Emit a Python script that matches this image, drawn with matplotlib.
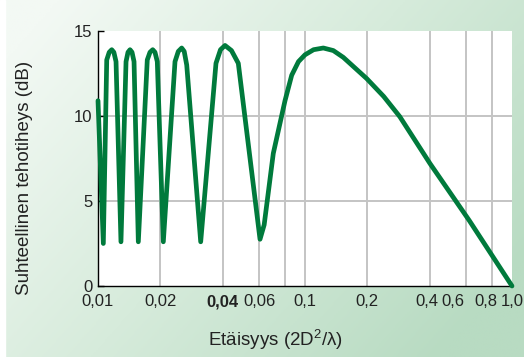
import numpy as np
import matplotlib.pyplot as plt
from matplotlib.colors import LinearSegmentedColormap
from matplotlib.transforms import ScaledTranslation

# Curve (distance in 2D^2/lambda, relative gain in dB)
distance = [0.0100, 0.01061,
            0.01102, 0.01133, 0.01165, 0.01193, 0.01222, 0.01291,
            0.01366, 0.01396, 0.01428, 0.01460, 0.01493, 0.01566,
            0.01730, 0.01783, 0.01838, 0.01885, 0.01934, 0.02068,
            0.02355, 0.02443, 0.02537, 0.02609, 0.02683, 0.03134,
            0.03715, 0.03906, 0.04108, 0.04414, 0.04762, 0.06063,
            0.0635, 0.07028, 0.08006, 0.08625, 0.0930, 0.1000, 0.1100,
            0.1226, 0.1370, 0.1531, 0.1987, 0.2400, 0.2871, 0.4018,
            0.6218, 1.0]
gain_db = [10.9, 2.5,
           13.3, 13.75, 13.9, 13.75, 13.2, 2.6,
           13.2, 13.75, 13.9, 13.75, 13.2, 2.6,
           13.3, 13.75, 13.9, 13.75, 13.2, 2.6,
           13.2, 13.8, 14.0, 13.8, 13.0, 2.6,
           13.1, 13.9, 14.15, 13.85, 13.1, 2.75,
           3.6, 7.8, 10.9, 12.4, 13.2, 13.6, 13.9,
           14.0, 13.85, 13.45, 12.2, 11.15, 9.96, 7.2,
           3.85, 0.0]

x_ticks = [0.01, 0.02, 0.04, 0.06, 0.08, 0.1, 0.2, 0.4, 0.6, 0.8, 1.0]
x_labels = ['0,01', '0,02', '0,04', '0,06', '', '0,1', '0,2', '0,4', '0,6', '0,8', '1,0']
y_ticks = [0, 5, 10, 15]

plt.rcParams['font.family'] = ['Liberation Sans', 'DejaVu Sans']
plt.rcParams['mathtext.fontset'] = 'custom'
plt.rcParams['mathtext.rm'] = 'Liberation Sans'
plt.rcParams['mathtext.it'] = 'Liberation Sans'
text_color = '#222222'
line_color = '#007a3c'
grid_color = '#c4c4c4'

fig = plt.figure(figsize=(5.24, 3.57), dpi=100)

# Background gradient: pale top-left to green bottom-right
bg = fig.add_axes([0, 0, 1, 1], zorder=-10)
yy, xx = np.mgrid[0:1:200j, 0:1:300j]
t = np.clip(0.75 * xx + 0.45 * yy - 0.08, 0, 1)
cmap = LinearSegmentedColormap.from_list('bg', ['#f3f9f4', '#d6ebdb', '#b8dbc2'])
bg.imshow(t, cmap=cmap, aspect='auto', extent=[0, 1, 0, 1], origin='upper')
bg.axvspan(0, 5 / 524, color='white')
bg.set_xlim(0, 1)
bg.set_ylim(0, 1)
bg.axis('off')

ax = fig.add_axes([98 / 524, 1 - 286 / 357, (512 - 98) / 524, (286 - 31) / 357])
ax.set_facecolor('white')
ax.set_xscale('log')
ax.set_xlim(0.01, 1.0)
ax.set_ylim(0, 15)

# grid lines
for xv in x_ticks[1:-1]:
    ax.axvline(xv, color=grid_color, lw=1.4, zorder=1)
for yv in [5, 10]:
    ax.axhline(yv, color=grid_color, lw=1.4, zorder=1)

ax.plot(distance, gain_db, color=line_color, lw=3.4, solid_capstyle='round',
        solid_joinstyle='round', zorder=3, clip_on=False)

ax.set_xticks(x_ticks)
ax.set_xticklabels(x_labels)
ax.xaxis.set_minor_locator(plt.NullLocator())
ax.set_yticks(y_ticks)
ax.tick_params(axis='x', length=0, pad=6, labelsize=12, labelcolor=text_color)
ax.tick_params(axis='y', direction='in', length=4, width=1, color='black',
               pad=4, labelsize=12, labelcolor=text_color)

# the crowded labels at the right end sit a little left of their grid lines
shifts = {'0,4': -3, '0,6': -13, '0,8': -6}
for lbl in ax.get_xticklabels():
    txt = lbl.get_text()
    if txt == '0,04':
        lbl.set_fontweight('bold')
    if txt in shifts:
        lbl.set_transform(lbl.get_transform() +
                          ScaledTranslation(shifts[txt] / 100, 0, fig.dpi_scale_trans))

for side in ['top', 'right']:
    ax.spines[side].set_visible(False)
for side in ['left', 'bottom']:
    ax.spines[side].set_color('black')
    ax.spines[side].set_linewidth(1.0)

fig.text(275 / 524, 1 - 340 / 357, r'Etäisyys (2D$^{2}$/λ)', ha='center', va='center',
         fontsize=13.5, color=text_color)
fig.text(25 / 524, 1 - 178 / 357, 'Suhteellinen tehotiheys (dB)', ha='center',
         va='center', rotation=90, fontsize=13.5, color=text_color)

fig.savefig('out.png', dpi=100)
